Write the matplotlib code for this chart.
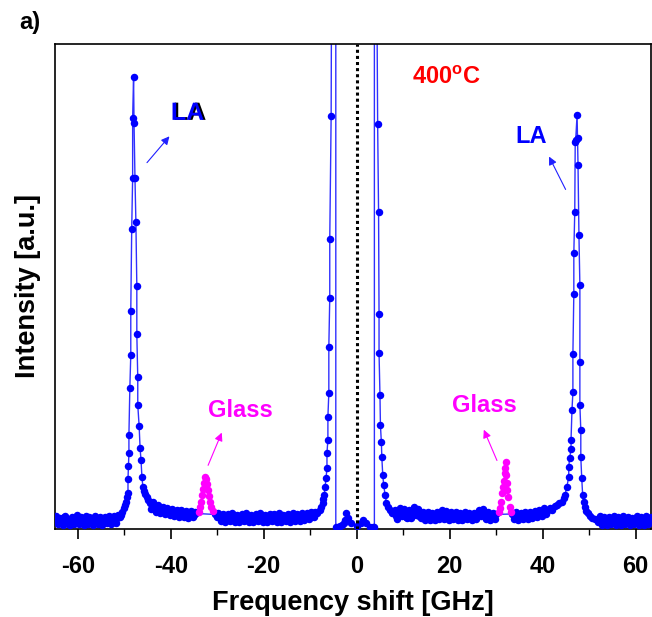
import numpy as np
import matplotlib.pyplot as plt
import matplotlib.patheffects as pe
from matplotlib.ticker import MultipleLocator

plt.rcParams['font.family'] = ['Liberation Sans', 'DejaVu Sans']
plt.rcParams['font.weight'] = 'bold'
plt.rcParams['axes.unicode_minus'] = False
plt.rcParams['mathtext.fontset'] = 'custom'
plt.rcParams['mathtext.rm'] = 'Liberation Sans:bold'
plt.rcParams['mathtext.bf'] = 'Liberation Sans:bold'

# ---- spectrum (x in GHz, y in a.u.) ----
left_base = [(-65.0, 1.6), (-64.5, 2.2), (-64.0, 1.3), (-63.5, 1.9), (-63.0, 2.4), (-62.5, 1.5),
             (-62.0, 1.1), (-61.5, 2.0), (-61.0, 1.7), (-60.5, 2.3), (-60.0, 1.4), (-59.5, 1.9),
             (-59.0, 1.2), (-58.5, 2.1), (-58.0, 1.6), (-57.5, 2.4), (-57.0, 1.3), (-56.5, 1.8),
             (-56.0, 2.2), (-55.5, 1.5), (-55.0, 1.9), (-54.5, 1.2), (-54.0, 2.0), (-53.5, 1.7),
             (-53.0, 2.3), (-52.5, 1.6), (-52.0, 1.9), (-51.5, 2.2), (-51.0, 2.5)]

left_la = [(-50.7, 2.9), (-50.4, 3.6), (-50.1, 4.3), (-49.8, 5.0), (-49.6, 5.6), (-49.4, 6.5),
           (-49.2, 7.4), (-49.2, 10.3), (-49.1, 13.0), (-49.0, 15.7), (-49.0, 19.4), (-48.8, 29.1),
           (-48.6, 35.9), (-48.6, 45.0), (-48.4, 61.9), (-48.2, 72.4), (-48.2, 84.7), (-48.0, 93.2),
           (-47.9, 83.7), (-47.7, 72.4), (-47.5, 63.3), (-47.3, 50.1), (-47.3, 40.2), (-47.1, 31.3),
           (-47.1, 25.6), (-46.8, 21.2), (-46.6, 16.7), (-46.4, 14.2), (-46.2, 10.7), (-46.0, 8.7),
           (-45.8, 7.8), (-45.5, 7.2), (-45.1, 6.6), (-44.8, 5.9), (-44.5, 5.4), (-44.1, 5.0),
           (-43.6, 4.6), (-43.0, 4.3), (-42.5, 4.0), (-42.0, 4.4), (-41.4, 3.7), (-40.8, 3.9),
           (-40.2, 3.4), (-39.6, 3.8), (-39.0, 3.1), (-38.5, 3.6), (-38.0, 2.9), (-37.5, 3.4),
           (-37.0, 3.0), (-36.5, 3.5), (-36.0, 2.8), (-35.5, 3.3), (-35.0, 2.9), (-34.5, 3.2)]

mid_left_base = [(-30.5, 3.0), (-30.0, 2.4), (-29.5, 2.8), (-29.0, 2.1), (-28.5, 2.6), (-28.0, 1.9),
                 (-27.5, 2.5), (-27.0, 2.2), (-26.5, 2.8), (-26.0, 2.0), (-25.5, 2.4), (-25.0, 1.8),
                 (-24.5, 2.6), (-24.0, 2.2), (-23.5, 2.9), (-23.0, 2.0), (-22.5, 2.5), (-22.0, 1.9),
                 (-21.5, 2.3), (-21.0, 2.7), (-20.5, 2.0), (-20.0, 2.4), (-19.5, 1.8), (-19.0, 2.6),
                 (-18.5, 2.1), (-18.0, 2.8), (-17.5, 2.2), (-17.0, 1.9), (-16.5, 2.5), (-16.0, 2.1),
                 (-15.5, 2.7), (-15.0, 2.0), (-14.5, 2.4), (-14.0, 2.2), (-13.5, 2.8), (-13.0, 2.1),
                 (-12.5, 2.5), (-12.0, 2.3), (-11.5, 2.9), (-11.0, 2.4), (-10.5, 2.7), (-10.0, 3.0),
                 (-9.5, 3.2), (-9.0, 3.5), (-8.5, 3.4), (-8.0, 3.9)]

central = [(-7.6, 4.6), (-7.3, 5.4), (-7.2, 6.2), (-7.0, 7.0), (-6.8, 8.7), (-6.6, 10.5),
           (-6.4, 12.6), (-6.4, 15.7), (-6.2, 18.4), (-6.2, 23.1), (-6.0, 28.0), (-6.0, 37.5),
           (-5.8, 47.6), (-5.8, 59.8), (-5.5, 85.2), (-5.3, 150.0), (-4.5, 150.0), (-4.5, 0.4),
           (-4.0, 0.4), (-3.6, 0.6), (-3.2, 0.8), (-2.8, 1.3), (-2.5, 1.9), (-2.2, 3.2),
           (-1.8, 2.2), (-1.2, 1.2), (0.0, 0.6), (1.0, 1.2), (1.4, 1.9), (2.0, 1.2),
           (2.8, 0.4), (3.5, 0.4), (3.8, 0.4), (3.8, 150.0), (4.1, 150.0), (4.5, 83.6),
           (4.7, 65.4), (4.8, 44.3), (4.8, 36.3), (5.0, 27.6), (5.1, 21.4), (5.3, 17.9),
           (5.4, 14.8), (5.6, 11.1), (5.8, 9.1), (6.1, 7.0), (6.4, 5.4), (6.8, 4.6),
           (7.2, 4.0), (7.6, 3.4)]

mid_right_base = [(8.0, 3.2), (8.5, 2.6), (9.0, 3.4), (9.5, 4.0), (10.0, 3.1), (10.5, 2.5),
                  (11.0, 3.3), (11.5, 2.8), (12.0, 3.6), (12.5, 4.2), (13.0, 3.5), (13.5, 2.7),
                  (14.0, 3.0), (14.5, 2.4), (15.0, 2.9), (15.5, 2.3), (16.0, 2.7), (16.5, 2.1),
                  (17.0, 2.6), (17.5, 3.0), (18.0, 2.4), (18.5, 3.3), (19.0, 2.8), (19.5, 2.2),
                  (20.0, 2.9), (20.5, 2.5), (21.0, 3.1), (21.5, 2.3), (22.0, 2.7), (22.5, 2.1),
                  (23.0, 2.6), (23.5, 2.9), (24.0, 2.3), (24.5, 2.8), (25.0, 2.2), (25.5, 2.7),
                  (26.0, 3.1), (26.5, 3.7), (27.0, 3.3), (27.5, 2.6), (28.0, 3.0), (28.5, 2.4),
                  (29.0, 2.8), (29.5, 2.5), (30.0, 3.0)]

pre_la_base = [(33.5, 3.1), (34.0, 2.6), (34.5, 2.9), (35.0, 2.3), (35.5, 2.8), (36.0, 2.5),
               (36.5, 3.0), (37.0, 2.6), (37.5, 3.2), (38.0, 2.8), (38.5, 3.4), (39.0, 3.0),
               (39.5, 3.6), (40.0, 3.3), (40.5, 3.9), (41.0, 3.7)]

right_la = [(41.5, 4.3), (42.0, 4.0), (42.6, 4.7), (43.1, 4.9), (43.6, 5.3), (44.1, 5.6),
            (44.5, 6.3), (44.8, 7.0), (45.2, 8.7), (45.6, 10.7), (45.6, 12.8), (45.8, 14.6),
            (46.1, 16.5), (46.1, 18.4), (46.3, 24.5), (46.5, 28.2), (46.5, 36.1), (46.7, 48.5),
            (46.7, 56.9), (46.9, 65.4), (47.0, 79.8), (47.1, 80.2), (47.4, 85.4), (47.5, 80.6),
            (47.6, 75.1), (47.8, 60.6), (48.0, 50.3), (48.0, 34.4), (48.0, 25.6), (48.2, 20.4),
            (48.2, 14.8), (48.4, 10.5), (48.6, 7.0), (48.8, 5.6), (49.1, 4.5), (49.4, 3.8),
            (49.7, 3.3), (50.2, 2.6), (50.7, 2.2), (51.2, 2.0), (51.7, 1.9)]

right_base = [(52.0, 1.5), (52.5, 2.1), (53.0, 1.3), (53.5, 1.8), (54.0, 1.1), (54.5, 1.7),
              (55.0, 2.2), (55.5, 1.4), (56.0, 1.9), (56.5, 1.2), (57.0, 1.8), (57.5, 2.3),
              (58.0, 1.5), (58.5, 2.0), (59.0, 1.3), (59.5, 1.9), (60.0, 1.6), (60.5, 2.2),
              (61.0, 1.4), (61.5, 2.0), (62.0, 1.7), (62.5, 2.3), (63.0, 1.5), (63.5, 1.9)]

# extra scatter in the noisy baseline (second pass, dots only)
left_base_extra = [(-64.75, 2.6), (-64.25, 1.0), (-63.75, 2.3), (-63.25, 0.9), (-62.75, 2.7),
                   (-62.25, 1.8), (-61.75, 0.9), (-61.25, 2.5), (-60.75, 1.1), (-60.25, 2.8),
                   (-59.75, 1.0), (-59.25, 2.4), (-58.75, 0.8), (-58.25, 2.6), (-57.75, 1.1),
                   (-57.25, 2.2), (-56.75, 0.9), (-56.25, 2.7), (-55.75, 1.0), (-55.25, 2.5),
                   (-54.75, 0.9), (-54.25, 2.4), (-53.75, 1.2), (-53.25, 2.7), (-52.75, 1.0),
                   (-52.25, 2.6), (-51.75, 1.3), (-51.25, 2.8)]
left_tail_extra = [(-44.25, 4.2), (-43.75, 5.5), (-43.25, 3.6), (-42.75, 4.9), (-42.25, 3.3),
                   (-41.75, 4.6), (-41.25, 3.0), (-40.75, 4.4), (-40.25, 2.8), (-39.75, 4.2),
                   (-39.25, 2.6), (-38.75, 4.0), (-38.25, 2.5), (-37.75, 3.9), (-37.25, 2.4),
                   (-36.75, 3.8), (-36.25, 2.3), (-35.75, 3.7), (-35.25, 2.4), (-34.75, 3.6)]
mid_left_extra = [(-29.75, 3.2), (-29.25, 1.6), (-28.75, 3.0), (-28.25, 1.4), (-27.75, 3.1),
                  (-27.25, 1.7), (-26.75, 3.3), (-26.25, 1.5), (-25.75, 2.9), (-25.25, 1.4),
                  (-24.75, 3.1), (-24.25, 1.6), (-23.75, 3.2), (-23.25, 1.5), (-22.75, 2.9),
                  (-22.25, 1.4), (-21.75, 3.0), (-21.25, 1.6), (-20.75, 3.2), (-20.25, 1.5),
                  (-19.75, 2.9), (-19.25, 1.4), (-18.75, 3.1), (-18.25, 1.6), (-17.75, 3.0),
                  (-17.25, 1.5), (-16.75, 3.2), (-16.25, 1.4), (-15.75, 2.9), (-15.25, 1.6),
                  (-14.75, 3.1), (-14.25, 1.5), (-13.75, 3.3), (-13.25, 1.7), (-12.75, 3.0),
                  (-12.25, 1.6), (-11.75, 3.2), (-11.25, 1.8), (-10.75, 3.3), (-10.25, 2.0),
                  (-9.75, 3.6), (-9.25, 2.4)]
mid_right_extra = [(8.25, 4.0), (8.75, 2.1), (9.25, 4.4), (9.75, 2.6), (10.25, 4.1), (10.75, 2.2),
                   (11.25, 4.0), (11.75, 2.3), (12.25, 4.6), (12.75, 2.8), (13.25, 4.2), (13.75, 2.2),
                   (14.25, 3.6), (14.75, 1.9), (15.25, 3.5), (15.75, 1.8), (16.25, 3.4), (16.75, 1.9),
                   (17.25, 3.6), (17.75, 2.0), (18.25, 3.9), (18.75, 2.1), (19.25, 3.8), (19.75, 1.9),
                   (20.25, 3.5), (20.75, 2.0), (21.25, 3.6), (21.75, 1.8), (22.25, 3.3), (22.75, 1.9),
                   (23.25, 3.5), (23.75, 2.0), (24.25, 3.4), (24.75, 1.8), (25.25, 3.3), (25.75, 2.1),
                   (26.25, 4.0), (26.75, 2.7), (27.25, 4.2), (27.75, 2.1), (28.25, 3.6), (28.75, 1.9),
                   (29.25, 3.4), (29.75, 2.0)]
pre_la_extra = [(33.75, 2.0), (34.25, 3.5), (34.75, 1.9), (35.25, 3.3), (35.75, 2.0), (36.25, 3.5),
                (36.75, 2.1), (37.25, 3.6), (37.75, 2.2), (38.25, 3.8), (38.75, 2.4), (39.25, 4.0),
                (39.75, 2.7), (40.25, 4.3), (40.75, 3.0)]
right_base_extra = [(52.25, 2.6), (52.75, 0.9), (53.25, 2.4), (53.75, 0.8), (54.25, 2.5),
                    (54.75, 1.0), (55.25, 2.7), (55.75, 0.9), (56.25, 2.4), (56.75, 0.8),
                    (57.25, 2.6), (57.75, 1.0), (58.25, 2.5), (58.75, 0.9), (59.25, 2.3),
                    (59.75, 1.0), (60.25, 2.7), (60.75, 0.9), (61.25, 2.5), (61.75, 0.8),
                    (62.25, 2.6), (62.75, 1.0), (63.25, 2.4)]

# glass peaks (magenta)
glass_left = [(-34.0, 3.6), (-33.7, 4.5), (-33.4, 5.6), (-33.2, 7.0), (-33.0, 8.3), (-32.8, 9.5),
              (-32.6, 10.7), (-32.4, 10.3), (-32.2, 9.3), (-32.0, 8.0), (-31.8, 6.8), (-31.6, 5.6),
              (-31.3, 4.5), (-30.9, 3.8)]
glass_right = [(30.6, 3.5), (30.8, 4.3), (31.0, 5.6), (31.2, 7.4), (31.4, 8.7), (31.6, 9.9),
               (31.8, 11.5), (32.0, 12.6), (32.1, 13.8), (32.2, 11.1), (32.3, 9.5), (32.4, 8.0),
               (32.6, 6.6), (32.9, 4.5), (33.2, 3.5)]

spectrum = np.array(left_base + left_la + mid_left_base + central + mid_right_base
                    + pre_la_base + right_la + right_base)
extra = np.array(left_base_extra + left_tail_extra + mid_left_extra + mid_right_extra
                 + pre_la_extra + right_base_extra)
gl = np.array(glass_left)
gr = np.array(glass_right)

fig = plt.figure(figsize=(6.52, 6.17), dpi=100)
ax = fig.add_axes([55 / 652, 1 - 529 / 617, 596 / 652, 485 / 617])

ax.plot(spectrum[:, 0], spectrum[:, 1], '-', color='#3030ff', lw=1.0, zorder=2)
ax.plot(spectrum[:, 0], spectrum[:, 1], 'o', color='#0000ff', ms=5.4, mec='none', zorder=3)
ax.plot(extra[:, 0], extra[:, 1], 'o', color='#0000ff', ms=5.4, mec='none', zorder=3)
ax.plot(gl[:, 0], gl[:, 1], 'o', color='#ff00ff', ms=5.4, mec='none', zorder=4)
ax.plot(gr[:, 0], gr[:, 1], 'o', color='#ff00ff', ms=5.4, mec='none', zorder=4)

ax.axvline(0, color='black', ls=(0, (1, 1)), lw=2.2, zorder=5)

ax.set_xlim(-64.9, 63.3)
ax.set_ylim(0, 100)
ax.xaxis.set_major_locator(MultipleLocator(20))
ax.xaxis.set_minor_locator(MultipleLocator(10))
ax.tick_params(axis='x', which='major', direction='out', length=7, width=1.2,
               labelsize=17, pad=12)
ax.tick_params(axis='x', which='minor', direction='out', length=4, width=1.0)
ax.set_yticks([])
for s in ax.spines.values():
    s.set_linewidth(1.2)

ax.set_xlabel('Frequency shift [GHz]', fontsize=19.5, fontweight='bold', labelpad=8)
ax.set_ylabel('Intensity [a.u.]', fontsize=19.5, fontweight='bold', labelpad=10)

# annotations
ax.annotate('', xy=(-39.9, 81.4), xytext=(-45.5, 75.1),
            arrowprops=dict(arrowstyle='-|>', color='#2020ff', lw=0.8, mutation_scale=12))
ax.text(-36.4, 85.8, 'LA', color='#0000ff', fontsize=18, fontweight='bold',
        ha='center', va='center',
        path_effects=[pe.withSimplePatchShadow(offset=(1.5, 0), shadow_rgbFace='black', alpha=1.0)])

ax.annotate('', xy=(41.1, 77.3), xytext=(45.2, 69.5),
            arrowprops=dict(arrowstyle='-|>', color='#2020ff', lw=0.8, mutation_scale=12))
ax.text(37.5, 81.0, 'LA', color='#0000ff', fontsize=17, fontweight='bold',
        ha='center', va='center')

ax.annotate('', xy=(-28.8, 20.4), xytext=(-32.2, 12.6),
            arrowprops=dict(arrowstyle='-|>', color='#ff00ff', lw=0.8, mutation_scale=12))
ax.text(-25.1, 24.5, 'Glass', color='#ff00ff', fontsize=17, fontweight='bold',
        ha='center', va='center')

ax.annotate('', xy=(27.1, 21.0), xytext=(30.4, 13.6),
            arrowprops=dict(arrowstyle='-|>', color='#ff00ff', lw=0.8, mutation_scale=12))
ax.text(27.4, 25.4, 'Glass', color='#ff00ff', fontsize=17, fontweight='bold',
        ha='center', va='center')

ax.text(19.4, 93.0, r'400$^{\mathbf{o}}$C', color='red', fontsize=17, fontweight='bold',
        ha='center', va='center')

fig.text(30 / 652, 1 - 23 / 617, 'a)', fontsize=17, fontweight='bold', ha='center', va='center')

fig.savefig('out.png', dpi=100)
